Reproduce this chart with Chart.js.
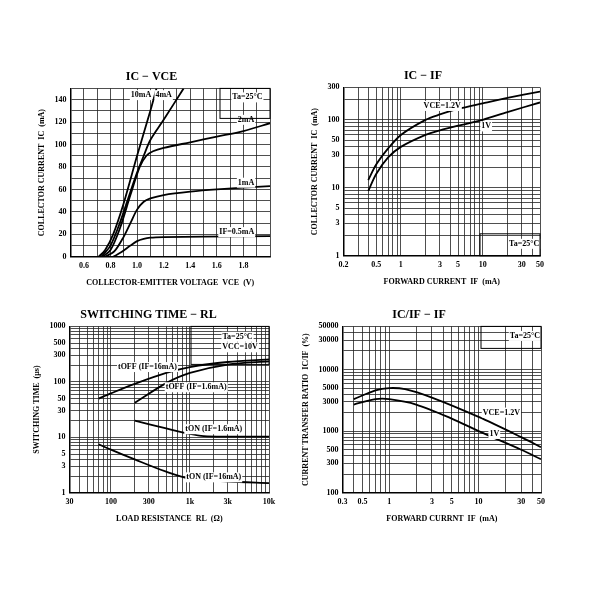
<!DOCTYPE html>
<html><head><meta charset="utf-8">
<script src="https://cdn.jsdelivr.net/npm/chart.js@4"></script>
<style>
body{margin:0;background:#fff;width:600px;height:600px;position:relative;overflow:hidden}
.c{position:absolute;width:275px;height:235px}
</style></head><body>
<div class="c" style="left:15px;top:62px"><canvas id="c1"></canvas></div>
<div class="c" style="left:285px;top:62px"><canvas id="c2"></canvas></div>
<div class="c" style="left:15px;top:302px"><canvas id="c3"></canvas></div>
<div class="c" style="left:285px;top:302px"><canvas id="c4"></canvas></div>
<script>
// Chart 1: IC - VCE
const vce_if05 = [[0.82,0],[0.88,4],[0.95,10],[1.0,14],[1.05,16],[1.1,17],[1.2,17.5],[1.5,18],[2.0,18.5]];
const vce_if1 = [[0.76,0],[0.83,5],[0.9,18],[0.95,30],[1.0,42],[1.05,49],[1.1,52],[1.2,55],[1.4,58],[1.6,60],[2.0,63]];
const vce_if2 = [[0.74,0],[0.8,6],[0.87,25],[0.95,55],[1.02,80],[1.07,90],[1.12,94],[1.2,97],[1.4,102],[1.6,107],[1.8,112],[2.0,119]];
const vce_if4 = [[0.73,0],[0.8,10],[0.87,30],[0.95,58],[1.0,75],[1.05,90],[1.1,104],[1.2,122],[1.35,150]];
const vce_if10 = [[0.71,0],[0.76,6],[0.82,20],[0.9,48],[1.0,90],[1.1,130],[1.146,150]];
const c1Labels = [["10mA",1.03,144],["4mA",1.2,144],["2mA",1.82,122],["1mA",1.82,66],["IF=0.5mA",1.75,22],["Ta=25°C",1.83,142]];
// Chart 2: IC - IF
const icif_12 = [[0.4,13],[0.5,22],[0.7,38],[1,60],[2,100],[3,120],[5,145],[10,175],[20,210],[50,260]];
const icif_1 = [[0.4,9],[0.5,16],[0.7,28],[1,40],[2,60],[3,70],[5,82],[10,100],[20,130],[50,180]];
const c2Labels = [["VCE=1.2V",3.2,160],["1V",11,80],["Ta=25°C",32,1.5]];
const c2XTicks = [0.2,0.5,1,3,5,10,30,50];
const c2YTicks = [1,3,5,10,30,50,100,300];
// Chart 3: switching time - RL
const toff16 = [[70,50],[100,62],[200,92],[500,145],[1000,185],[3000,228],[10000,255]];
const toff16b = [[200,42],[500,95],[1000,145],[3000,205],[10000,235]];
const ton16b = [[200,20],[500,14.5],[1000,11.5],[1500,10.5],[3000,10.3],[10000,10.3]];
const ton16 = [[70,7.5],[100,6],[200,4],[500,2.4],[1000,1.8],[3000,1.6],[10000,1.5]];
const c3Labels = [["tOFF (IF=16mA)",290,185],["tOFF (IF=1.6mA)",1200,80],["tON (IF=1.6mA)",2000,14],["tON (IF=16mA)",2000,1.9],["Ta=25°C",4000,650],["VCC=10V",4300,420]];
const c3XTicks = [30,100,300,1000,3000,10000];
const c3YTicks = [1,3,5,10,30,50,100,300,500,1000];
// Chart 4: CTR - IF
const ctr12 = [[0.4,3300],[0.7,4600],[1,5000],[1.5,4800],[3,3500],[10,1700],[30,800],[50,550]];
const ctr1 = [[0.4,2700],[0.7,3300],[1,3300],[2,2700],[5,1600],[10,1000],[30,500],[50,350]];
const c4Labels = [["VCE=1.2V",18,2000],["1V",15,900],["Ta=25°C",33,35000]];
const c4XTicks = [0.3,0.5,1,3,5,10,30,50];
const c4YTicks = [100,300,500,1000,3000,5000,10000,30000,50000];

const F = "'Liberation Serif', serif";
const tickFont = {family:F,size:8,weight:'bold'};
const lbl = {
  id:'lbl',
  afterDatasetsDraw(ch){
    const L = ch.options.plugins.lbl.items, c = ch.ctx;
    c.save(); c.font = "bold 8px "+F; c.fillStyle="#000"; c.textAlign='center'; c.textBaseline='middle';
    L.forEach(([t,x,y])=>{
      const px = ch.scales.x.getPixelForValue(x), py = ch.scales.y.getPixelForValue(y);
      const w = c.measureText(t).width;
      c.fillStyle="#fff"; c.fillRect(px-w/2-1,py-5,w+2,10); c.fillStyle="#000";
      c.fillText(t,px,py);
    });
    if (ch.options.plugins.lbl.box){
      const a = ch.chartArea, b = ch.options.plugins.lbl.box;
      c.strokeStyle="#000"; c.lineWidth=1;
      c.strokeRect(a.right-b[0], b[2]?a.bottom-b[1]:a.top, b[0], b[1]);
    }
    c.restore();
  }
};
function ds(arr){return {data:arr.map(p=>({x:p[0],y:p[1]})),showLine:true,borderColor:'#000',borderWidth:1.8,pointRadius:0,tension:0.3};}
const clean=v=>Number(v.toPrecision(6));
function logAxis(min,max,ticks,title,fmt){
  return {type:'logarithmic',min,max,
    title:{display:true,text:title,font:tickFont,color:'#000'},
    grid:{color:'#222',lineWidth:0.8,drawTicks:false},border:{color:'#000',width:1.5},
    afterBuildTicks(ax){
      const t=[]; let e=Math.floor(Math.log10(min));
      for(;Math.pow(10,e)<=max*1.0001;e++){for(let k=1;k<10;k++){const v=clean(k*Math.pow(10,e)); if(v>=min*0.9999&&v<=max*1.0001)t.push({value:v});}}
      ax.ticks=t;},
    ticks:{autoSkip:false,maxRotation:0,font:tickFont,color:'#000',padding:4,
      callback:(v)=>{v=clean(v);return ticks.some(k=>Math.abs(k-v)/k<1e-6)?(fmt?fmt(v):String(v)):'';}}};
}
function mk(id,datasets,x,y,title,labels,box,pad){
  new Chart(document.getElementById(id),{type:'scatter',data:{datasets},
    options:{responsive:true,maintainAspectRatio:false,animation:false,
      layout:{padding:pad},
      plugins:{legend:{display:false},tooltip:{enabled:false},
        title:{display:true,text:title,font:{family:F,size:12},color:'#000',padding:{top:2,bottom:4}},
        lbl:{items:labels,box}},
      scales:{x,y}},plugins:[lbl]});
}
mk('c1',[ds(vce_if05),ds(vce_if1),ds(vce_if2),ds(vce_if4),ds(vce_if10)],
  {type:'linear',min:0.5,max:2.0,title:{display:true,text:'COLLECTOR-EMITTER VOLTAGE  VCE  (V)',font:tickFont,color:'#000'},
   grid:{color:'#222',lineWidth:0.8,drawTicks:false},border:{color:'#000',width:1.5},
   afterBuildTicks(ax){const t=[];for(let i=5;i<=20;i++)t.push({value:i/10});ax.ticks=t;},
   ticks:{autoSkip:false,maxRotation:0,font:tickFont,color:'#000',padding:4,callback:v=>{const r=Math.round(v*10);return (r%2===0&&r>=6&&r<=18)?(v.toFixed(1)):'';}}},
  {type:'linear',min:0,max:150,title:{display:true,text:'COLLECTOR CURRENT  IC  (mA)',font:tickFont,color:'#000'},
   grid:{color:'#222',lineWidth:0.8,drawTicks:false},border:{color:'#000',width:1.5},
   afterBuildTicks(ax){const t=[];for(let i=0;i<=150;i+=10)t.push({value:i});ax.ticks=t;},
   ticks:{autoSkip:false,font:tickFont,color:'#000',padding:4,callback:v=>(v%20===0&&v<=140)?String(v):''}},
  'IC − VCE',c1Labels,[50,30,false],{left:18,right:20,top:6,bottom:5});
mk('c2',[ds(icif_12),ds(icif_1)],
  logAxis(0.2,50,c2XTicks,'FORWARD CURRENT  IF  (mA)'),
  logAxis(1,300,c2YTicks,'COLLECTOR CURRENT  IC  (mA)'),
  'IC − IF',c2Labels,[60,22,true],{left:21,right:20,top:5,bottom:6});
const kfmt=v=>v>=1000?(v/1000)+'k':String(v);
mk('c3',[ds(toff16),ds(toff16b),ds(ton16b),ds(ton16)],
  logAxis(30,10000,c3XTicks,'LOAD RESISTANCE  RL  (Ω)',kfmt),
  logAxis(1,1000,c3YTicks,'SWITCHING TIME  (μs)'),
  'SWITCHING TIME − RL',c3Labels,[78,38,false],{left:13,right:21,top:4,bottom:9});
mk('c4',[ds(ctr12),ds(ctr1)],
  logAxis(0.3,50,c4XTicks,'FORWARD CURRNT  IF  (mA)'),
  logAxis(100,50000,c4YTicks,'CURRENT TRANSFER RATIO  IC/IF  (%)'),
  'IC/IF − IF',c4Labels,[60,22,false],{left:12,right:19,top:4,bottom:9});
</script></body></html>
